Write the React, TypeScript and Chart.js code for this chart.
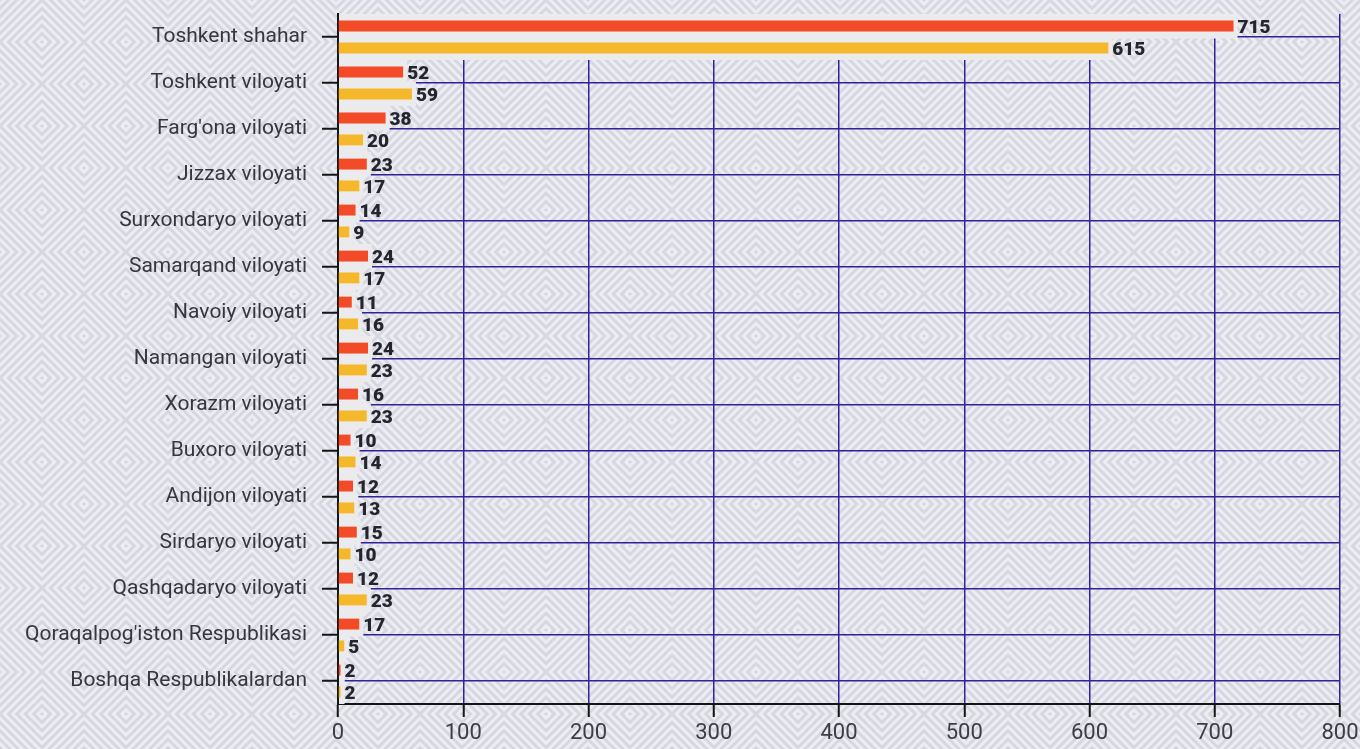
import { useEffect, useRef } from "react";
import { Chart, registerables } from "chart.js";

Chart.register(...registerables);

const categories = [
  "Toshkent shahar",
  "Toshkent viloyati",
  "Farg'ona viloyati",
  "Jizzax viloyati",
  "Surxondaryo viloyati",
  "Samarqand viloyati",
  "Navoiy viloyati",
  "Namangan viloyati",
  "Xorazm viloyati",
  "Buxoro viloyati",
  "Andijon viloyati",
  "Sirdaryo viloyati",
  "Qashqadaryo viloyati",
  "Qoraqalpog'iston Respublikasi",
  "Boshqa Respublikalardan",
];

const seriesRed = [715, 52, 38, 23, 14, 24, 11, 24, 16, 10, 12, 15, 12, 17, 2];
const seriesYellow = [615, 59, 20, 17, 9, 17, 16, 23, 23, 14, 13, 10, 23, 5, 2];

const xTicks = [0, 100, 200, 300, 400, 500, 600, 700, 800];

const RED = "#f34b27";
const YELLOW = "#f6b82b";
const GRID = "#30229a";
const AXIS = "#151515";

function makePattern(ctx: CanvasRenderingContext2D): CanvasPattern | string {
  const size = 84;
  const period = 8.4;
  const c = document.createElement("canvas");
  c.width = size;
  c.height = size;
  const g = c.getContext("2d");
  if (!g) return "#e6e6ee";
  const img = g.createImageData(size, size);
  const light = [237, 237, 245];
  const dark = [214, 214, 222];
  for (let y = 0; y < size; y++) {
    for (let x = 0; x < size; x++) {
      const dx = Math.abs(x + 0.5 - size / 2);
      const dy = Math.abs(y + 0.5 - size / 2);
      const d = dx + dy;
      let t = 0.5 + 0.5 * Math.cos((2 * Math.PI * d) / period);
      t = t * t * (3 - 2 * t);
      const i = (y * size + x) * 4;
      img.data[i] = light[0] + (dark[0] - light[0]) * t;
      img.data[i + 1] = light[1] + (dark[1] - light[1]) * t;
      img.data[i + 2] = light[2] + (dark[2] - light[2]) * t;
      img.data[i + 3] = 255;
    }
  }
  g.putImageData(img, 0, 0);
  return ctx.createPattern(c, "repeat") || "#e6e6ee";
}

const backgroundPlugin = {
  id: "patternBg",
  beforeDraw(chart: any) {
    const ctx = chart.ctx as CanvasRenderingContext2D;
    ctx.save();
    ctx.fillStyle = makePattern(ctx);
    ctx.fillRect(0, 0, chart.width, chart.height);
    ctx.restore();
  },
};

const backdropPlugin = {
  id: "barBackdrop",
  beforeDatasetsDraw(chart: any) {
    const ctx = chart.ctx as CanvasRenderingContext2D;
    const yScale = chart.scales.y;
    const half = (yScale.getPixelForValue(1) - yScale.getPixelForValue(0)) / 2;
    const left = chart.chartArea.left + 1;
    ctx.save();
    ctx.fillStyle = "#ebebee";
    chart.data.datasets.forEach((_ds: any, di: number) => {
      const meta = chart.getDatasetMeta(di);
      meta.data.forEach((el: any, i: number) => {
        const c = yScale.getPixelForValue(i);
        const top = di === 0 ? c - half : c - 1.5;
        const bottom = di === 0 ? c + 1.5 : c + half;
        ctx.fillRect(left, top, el.x + 4 - left, bottom - top);
      });
    });
    ctx.restore();
  },
};

const labelPlugin = {
  id: "barLabels",
  afterDatasetsDraw(chart: any) {
    const ctx = chart.ctx as CanvasRenderingContext2D;
    ctx.save();
    ctx.font = "900 19px Roboto";
    ctx.fillStyle = "#25252d";
    ctx.textAlign = "left";
    ctx.textBaseline = "middle";
    chart.data.datasets.forEach((ds: any, di: number) => {
      const meta = chart.getDatasetMeta(di);
      meta.data.forEach((el: any, i: number) => {
        ctx.fillText(String(ds.data[i]), el.x + 4, el.y + 2);
      });
    });
    ctx.restore();
  },
};

export default function App() {
  const ref = useRef<HTMLCanvasElement>(null);

  useEffect(() => {
    if (!ref.current) return;
    const chart = new Chart(ref.current, {
      type: "bar",
      data: {
        labels: categories,
        datasets: [
          {
            data: seriesRed,
            backgroundColor: RED,
            borderWidth: 0,
            barPercentage: 0.5,
            categoryPercentage: 0.95,
          },
          {
            data: seriesYellow,
            backgroundColor: YELLOW,
            borderWidth: 0,
            barPercentage: 0.5,
            categoryPercentage: 0.95,
          },
        ],
      },
      options: {
        indexAxis: "y",
        animation: false,
        responsive: true,
        maintainAspectRatio: false,
        layout: { padding: { top: 14, right: 20, bottom: 0, left: 0 } },
        plugins: {
          legend: { display: false },
          tooltip: { enabled: false },
        },
        scales: {
          x: {
            min: 0,
            max: 800,
            afterBuildTicks: (s: any) => {
              s.ticks = xTicks.map((v) => ({ value: v }));
            },
            afterFit: (s: any) => {
              s.height = 45;
              s.paddingLeft = 0;
              s.paddingRight = 0;
            },
            grid: {
              color: (c: any) => (c.tick && c.tick.value === 0 ? "rgba(0,0,0,0)" : GRID),
              lineWidth: 1.5,
              tickColor: AXIS,
              tickLength: 13,
              tickWidth: 2,
            },
            border: { color: AXIS, width: 2 },
            ticks: {
              padding: 3,
              color: "#3d3d45",
              font: { family: "Roboto", size: 22 },
              maxRotation: 0,
            },
          },
          y: {
            afterFit: (s: any) => {
              s.width = 338;
              s.paddingTop = 0;
              s.paddingBottom = 0;
            },
            grid: {
              offset: false,
              color: GRID,
              lineWidth: 1.5,
              tickColor: AXIS,
              tickLength: 16,
              tickWidth: 2,
            },
            border: { color: AXIS, width: 2 },
            ticks: {
              padding: 15,
              autoSkip: false,
              color: "#36363e",
              font: { family: "Roboto", size: 21 },
            },
          },
        },
      } as any,
      plugins: [backgroundPlugin, backdropPlugin, labelPlugin],
    });
    return () => chart.destroy();
  }, []);

  return (
    <div style={{ position: "fixed", left: 0, top: 0, width: 1360, height: 749 }}>
      <canvas ref={ref} />
    </div>
  );
}
